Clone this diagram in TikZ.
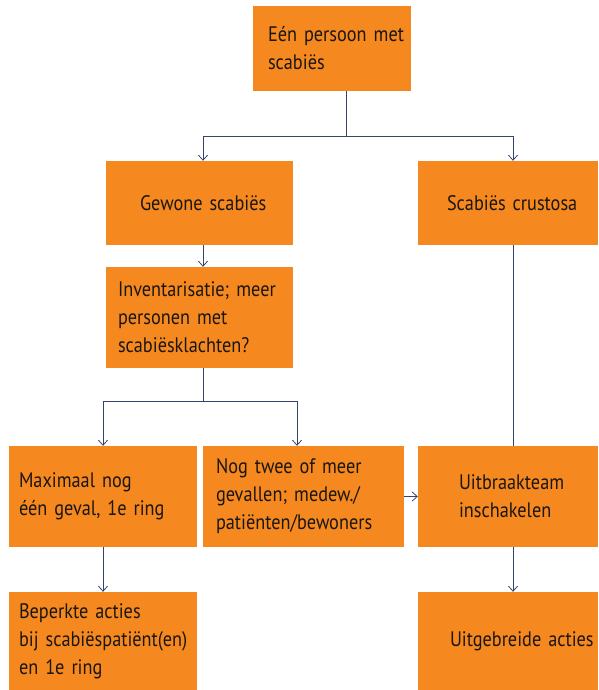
\documentclass[tikz,border=0pt]{standalone}
\usepackage{fontspec}
\setmainfont{PT Sans}[FakeStretch=0.87]
\usetikzlibrary{positioning}
\usetikzlibrary{arrows.meta}
\hyphenpenalty=10000
\exhyphenpenalty=10000
\definecolor{scorange}{HTML}{F5891F}
\definecolor{sclink}{HTML}{34446A}
\definecolor{sctext}{HTML}{1A1612}
\tikzset{
    box/.style = {rectangle, fill=scorange, text=sctext, align=left, inner ysep=0pt,
                  font=\fontsize{21}{28}\selectfont},
    link/.style = {line width=0.8pt, draw=sclink},
    arr/.style = {-{Straight Barb[length=5pt,width=9pt]}, line width=0.8pt, draw=sclink}
}
\begin{document}
\begin{tikzpicture}[x=1pt,y=1pt]
\useasboundingbox (0,0) rectangle (598,-690);
%
\node[box,minimum width=158pt,minimum height=85pt,inner xsep=15pt,text width=128pt] at (332,-48.5) (een) {Eén~persoon~met\\scabiës};
\node[box,minimum width=187pt,minimum height=84pt,inner xsep=34pt,text width=119pt] at (199.5,-203) (gewone) {Gewone~scabiës};
\node[box,minimum width=180pt,minimum height=84pt,inner xsep=29pt,text width=122pt] at (508,-203) (crust) {Scabiës~crustosa};
\node[box,minimum width=187pt,minimum height=101pt,inner xsep=12pt,text width=163pt] at (199.5,-317.5) (inv) {Inventarisatie;~meer\\personen~met\\scabiësklachten?};
\node[box,minimum width=188pt,minimum height=101pt,inner xsep=10pt,text width=168pt] at (103,-496.5) (max) {Maximaal~nog\\één~geval,~1e~ring};
\node[box,minimum width=201pt,minimum height=101pt,inner xsep=13pt,text width=175pt] at (303.5,-496.5) (nog) {Nog~twee~of~meer\\gevallen;~medew./\\patiënten/bewoners};
\node[box,minimum width=180pt,minimum height=101pt,inner xsep=41pt,text width=98pt] at (508,-496.5) (uitbraak) {Uitbraakteam\\inschakelen};
\node[box,minimum width=188pt,minimum height=98pt,inner xsep=10pt,text width=168pt] at (103,-641) (beperkt) {Beperkte~acties\\bij~scabiëspatiënt(en)\\en~1e~ring};
\node[box,minimum width=180pt,minimum height=98pt,inner xsep=32pt,text width=116pt] at (508,-641) (uitgebreid) {Uitgebreide~acties};
%
\coordinate (cl) at (203,0);
\coordinate (cr) at (513,0);
\coordinate (cm) at (297,0);
\coordinate (s1) at (346,-136);
\coordinate (s2) at (203,-401);
%
\draw[link] (s1 |- een.south) -- (s1);
\draw[arr] (s1) -| (cl |- gewone.north);
\draw[arr] (s1) -| (cr |- crust.north);
\draw[arr] (cl |- gewone.south) -- (cl |- inv.north);
\draw[link] (cl |- inv.south) -- (s2);
\draw[arr] (s2) -| (max.north);
\draw[arr] (s2) -| (cm |- nog.north);
\draw[link] (cr |- crust.south) -- (cr |- uitbraak.north);
\draw[arr] (nog) edge node {} (uitbraak);
\draw[arr] (max) edge node {} (beperkt);
\draw[arr] (cr |- uitbraak.south) -- (cr |- uitgebreid.north);
\end{tikzpicture}
\end{document}
